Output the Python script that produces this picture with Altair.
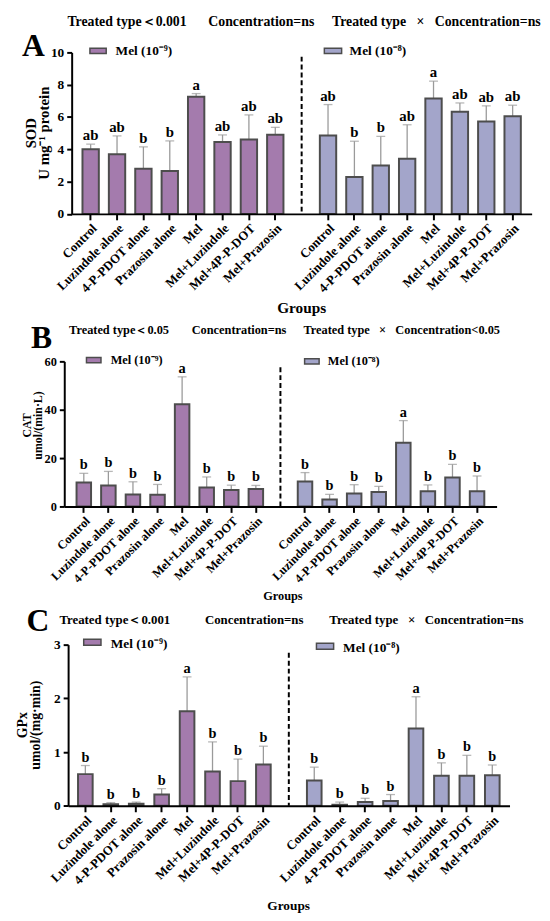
import altair as alt
import pandas as pd

FONT = "Liberation Serif"

treatments = ["Control", "Luzindole alone", "4-P-PDOT alone", "Prazosin alone",
              "Mel", "Mel+Luzindole", "Mel+4P-P-DOT", "Mel+Prazosin"]
conc_labels = ["Mel (10\u207b\u2079)", "Mel (10\u207b\u2078)"]
bar_colors = ["#A47BAD", "#A3A5CA"]

# SOD (U mg-1 protein)
sod_mean_9 = [4.0, 3.7, 2.8, 2.65, 7.25, 4.45, 4.6, 4.9]
sod_sd_9 = [0.32, 1.13, 1.35, 1.87, 0.2, 0.44, 1.53, 0.46]
sod_let_9 = ["ab", "ab", "b", "b", "a", "ab", "ab", "ab"]
sod_mean_8 = [4.85, 2.28, 3.0, 3.42, 7.15, 6.33, 5.72, 6.05]
sod_sd_8 = [1.92, 2.22, 1.8, 2.1, 1.07, 0.54, 0.97, 0.68]
sod_let_8 = ["ab", "b", "b", "ab", "a", "ab", "ab", "ab"]

# CAT umol/(min L)
cat_mean_9 = [9.9, 8.7, 4.9, 4.8, 42.3, 7.8, 6.8, 7.2]
cat_sd_9 = [3.8, 5.8, 5.3, 4.3, 11.3, 4.4, 2.0, 1.5]
cat_let_9 = ["b", "b", "b", "b", "a", "b", "b", "b"]
cat_mean_8 = [10.3, 2.9, 5.4, 6.0, 26.3, 6.3, 12.0, 6.3]
cat_sd_8 = [3.7, 2.1, 3.6, 2.3, 9.2, 2.6, 5.4, 6.3]
cat_let_8 = ["b", "b", "b", "b", "a", "b", "b", "b"]

# GPx umol/(mg min)
gpx_mean_9 = [0.59, 0.03, 0.04, 0.21, 1.76, 0.64, 0.46, 0.77]
gpx_sd_9 = [0.16, 0.03, 0.03, 0.11, 0.64, 0.55, 0.41, 0.34]
gpx_let_9 = ["b", "b", "b", "b", "a", "b", "b", "b"]
gpx_mean_8 = [0.47, 0.02, 0.07, 0.09, 1.44, 0.56, 0.56, 0.57]
gpx_sd_8 = [0.25, 0.05, 0.07, 0.12, 0.59, 0.24, 0.38, 0.19]
gpx_let_8 = ["b", "b", "b", "b", "a", "b", "b", "b"]

keys = [f"1|{t}" for t in treatments] + ["gap"] + [f"2|{t}" for t in treatments]
tick_keys = [k for k in keys if k != "gap"]

NB = "\u00a0"
ORIGIN = 64.5  # common left edge of every panel's plot area (page px)


def make_df(m9, s9, l9, m8, s8, l8):
    rows = []
    for i, t in enumerate(treatments):
        rows.append(dict(key=f"1|{t}", treatment=t, conc=conc_labels[0],
                         mean=m9[i], sd=s9[i], letter=l9[i]))
    for i, t in enumerate(treatments):
        rows.append(dict(key=f"2|{t}", treatment=t, conc=conc_labels[1],
                         mean=m8[i], sd=s8[i], letter=l8[i]))
    return pd.DataFrame(rows)


one = pd.DataFrame({"a": [0]})


def txt(s, x, y, size, align="left", angle=0, baseline="alphabetic"):
    return alt.Chart(one).mark_text(
        text=s, align=align, baseline=baseline, angle=angle, font=FONT,
        fontWeight="bold", fontSize=size, color="black"
    ).encode(x=alt.value(x), y=alt.value(y))


def swatch(col, x1, x2, y1, y2):
    return alt.Chart(one).mark_rect(fill=col, stroke="#4d4d4d", strokeWidth=1.5).encode(
        x=alt.value(x1), x2=alt.value(x2), y=alt.value(y1), y2=alt.value(y2))


def panel(df, c):
    x0 = c["x0"]
    xscale = alt.Scale(domain=keys, range=[x0, x0 + c["W"]],
                       paddingInner=c["pi"], paddingOuter=c["po"])
    xaxis = alt.Axis(values=tick_keys, labelExpr="split(datum.value, '|')[1]",
                     labelAngle=-45, title=None, labelFont=FONT, labelFontWeight="bold",
                     labelFontSize=c["xl"], labelColor="black", domainColor="black",
                     domainWidth=2, tickColor="black", tickWidth=2, tickSize=6,
                     labelPadding=2, zindex=1, labelLimit=300)
    X = alt.X("key:N", scale=xscale, axis=xaxis)
    yscale = alt.Scale(domain=[0, c["ymax"]], nice=False, zero=True)
    yaxis = alt.Axis(values=c["yvals"], title=None, grid=False, labelFont=FONT,
                     labelFontWeight="bold", labelFontSize=c["yl"], labelColor="black",
                     domainColor="black", domainWidth=2, tickColor="black", tickWidth=2,
                     tickSize=5, labelPadding=3, zindex=1, offset=-x0)

    def Y(f):
        return alt.Y(f, scale=yscale, axis=yaxis)

    base = alt.Chart(df).transform_calculate(upper="datum.mean + datum.sd")
    err = base.mark_rule(color="#9a9a9a", strokeWidth=1.3).encode(
        x=X, y=Y("mean:Q"), y2="upper:Q")
    cap = base.mark_tick(color="#9a9a9a", thickness=1.3, size=9).encode(
        x=X, y=Y("upper:Q"))
    bars = base.mark_bar(stroke="#4d4d4d", strokeWidth=2).encode(
        x=X, y=Y("mean:Q"),
        color=alt.Color("conc:N", scale=alt.Scale(domain=conc_labels, range=bar_colors),
                        legend=None))
    sig = base.mark_text(dy=-4, baseline="alphabetic", font=FONT, fontWeight="bold",
                         fontSize=c["sig"], color="black").encode(
        x=X, y=Y("upper:Q"), text="letter:N")
    dash = alt.Chart(pd.DataFrame({"key": ["gap"]})).mark_rule(
        color="black", strokeWidth=2, strokeDash=[5, 3]).encode(
        x=X, y=alt.value(c["dash_top"]), y2=alt.value(c["H"]))
    anchor = alt.Chart(one).mark_rule(color="white", strokeWidth=1).encode(
        x=alt.value(8.5 - ORIGIN), y=alt.value(c["anchor"][0]),
        y2=alt.value(c["anchor"][1]))

    layers = [anchor, err, cap, bars, sig, dash]
    s = c["stats"]
    for t, x in zip(s["texts"], s["xs"]):
        layers.append(txt(t, x - ORIGIN, s["y"], s["size"]))
    lg = c["legend"]
    for i in range(2):
        sx, sy = lg["sw"][i]
        layers.append(swatch(bar_colors[i], sx[0] - ORIGIN, sx[1] - ORIGIN, sy[0], sy[1]))
        tx, ty = lg["tx"][i]
        layers.append(txt(conc_labels[i], tx - ORIGIN, ty, lg["size"]))
    layers.append(txt(c["letter"][0], c["letter"][1] - ORIGIN, c["letter"][2], 32))
    layers.append(txt("Groups", c["groups"][0] - ORIGIN, c["groups"][1], c["groups"][2],
                      align="center"))
    yt = c["ytitle"]
    for t, x, y in zip(yt["texts"], yt["xs"], yt["ys"]):
        layers.append(txt(t, x - ORIGIN, y, yt["size"], align="center", angle=270,
                          baseline="middle"))
    return alt.layer(*layers).properties(width=x0 + c["W"], height=c["H"])


# x positions below are page pixels; y positions are relative to each plot's top
cfgA = dict(
    x0=72 - ORIGIN, W=466, H=163.6, ymax=10, yvals=[0, 2, 4, 6, 8, 10],
    pi=0.38, po=0.41, xl=13, yl=13.5, sig=15,
    anchor=(-37.7, 268.3), dash_top=4.3,
    stats=dict(y=-27, size=14, xs=[67.7, 210.4, 335.7],
               texts=["Treated type\uff1c0.001", "Concentration=ns",
                      f"Treated type{NB*3}\u00d7{NB*3}Concentration=ns"]),
    legend=dict(size=13.5, sw=[((90.5, 107), (-4.3, 1.0)), ((328, 345.5), (-4.3, 1.0))],
                tx=[(116.5, 2.8), (353.6, 2.8)]),
    letter=("A", 21.7, 3.8), groups=(305, 263.6, 15.5),
    ytitle=dict(texts=["SOD", "U mg\u207b\u00b9 protein"], xs=[31, 44], ys=[81.8, 81.8],
                size=15),
)

cfgB = dict(
    x0=0, W=438, H=147, ymax=60, yvals=[0, 20, 40, 60],
    pi=0.41, po=0.5, xl=12.5, yl=12.5, sig=14.5,
    anchor=(-43.3, 244.7), dash_top=6,
    stats=dict(y=-27.3, size=12.5, xs=[69.4, 193.6, 306.9],
               texts=["Treated type\uff1c0.05", "Concentration=ns",
                      f"Treated type{NB*3}\u00d7{NB*3}Concentration<0.05"]),
    legend=dict(size=12.5, sw=[((87, 101.7), (-4.0, 1.4)), ((308, 322.7), (-2.7, 2.7))],
                tx=[(111.5, 2.2), (331.5, 3.5)]),
    letter=("B", 30.9, -14), groups=(286, 242.1, 12.5),
    ytitle=dict(texts=["CAT", "umol/(min\u00b7L)"], xs=[26.3, 37.7], ys=[65, 65], size=12),
)

cfgC = dict(
    x0=68.4 - ORIGIN, W=447.2, H=163.3, ymax=3, yvals=[0, 1, 2, 3],
    pi=0.425, po=0.39, xl=13, yl=13.5, sig=14.5,
    anchor=(-39.7, 274.3), dash_top=8.3,
    stats=dict(y=-20.6, size=13, xs=[59.6, 207, 333],
               texts=["Treated type\uff1c0.001", "Concentration=ns",
                      f"Treated type{NB*3}\u00d7{NB*3}Concentration=ns"]),
    legend=dict(size=13.5, sw=[((84.2, 101.7), (-5.4, 0.6)), ((320, 337.4), (-1.4, 4.6))],
                tx=[(111.5, 3.8), (347, 7.8)]),
    letter=("C", 26.3, -13.4), groups=(291.8, 269, 13.5),
    ytitle=dict(texts=["GPx", "umol/(mg\u00b7min)"], xs=[22.8, 36], ys=[81.6, 81.6], size=14),
)

pA = panel(make_df(sod_mean_9, sod_sd_9, sod_let_9, sod_mean_8, sod_sd_8, sod_let_8), cfgA)
pB = panel(make_df(cat_mean_9, cat_sd_9, cat_let_9, cat_mean_8, cat_sd_8, cat_let_8), cfgB)
pC = panel(make_df(gpx_mean_9, gpx_sd_9, gpx_let_9, gpx_mean_8, gpx_sd_8, gpx_let_8), cfgC)

chart = alt.vconcat(pA, pB, pC, spacing=0).properties(padding=0).configure_view(stroke=None)

chart.save("out.html", embed_options={"renderer": "svg", "actions": False})
